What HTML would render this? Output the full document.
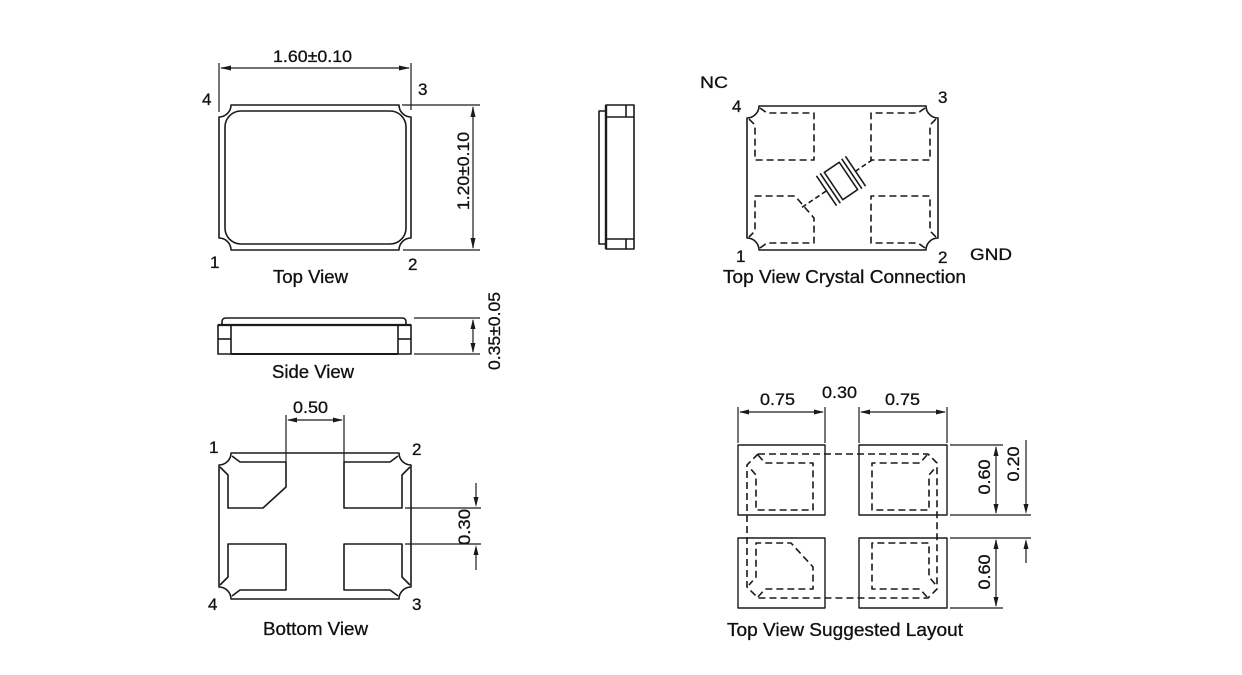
<!DOCTYPE html>
<html>
<head>
<meta charset="utf-8">
<style>
html,body{margin:0;padding:0;background:#fff;}
svg{display:block;}
text{font-family:"Liberation Sans", Arial, sans-serif;fill:#111;stroke:#111;stroke-width:0.3;}
</style>
</head>
<body>
<svg width="1242" height="675" viewBox="0 0 1242 675" xmlns="http://www.w3.org/2000/svg">
<rect width="1242" height="675" fill="#fff"/>
<g fill="none" stroke="#1a1a1a" stroke-width="1.6" stroke-linejoin="round">

<!-- ===== TOP VIEW ===== -->
<path d="M231,105 H399 A12 12 0 0 0 411,117 V238 A12 12 0 0 0 399,250 H231 A12 12 0 0 0 219,238 V117 A12 12 0 0 0 231,105 Z"/>
<rect x="225" y="111" width="181" height="133" rx="16" ry="16"/>
<!-- top dim -->
<line x1="219" y1="63" x2="219" y2="112" stroke-width="1.2"/>
<line x1="411" y1="63" x2="411" y2="110" stroke-width="1.2"/>
<line x1="221" y1="68" x2="409" y2="68" stroke-width="1.2"/>
<!-- right dim -->
<line x1="402" y1="105" x2="480" y2="105" stroke-width="1.2"/>
<line x1="403" y1="250" x2="480" y2="250" stroke-width="1.2"/>
<line x1="473" y1="107" x2="473" y2="248" stroke-width="1.2"/>

<!-- ===== SIDE PIECE ===== -->
<rect x="606" y="105" width="28" height="144"/>
<line x1="606" y1="105" x2="606" y2="249" stroke-width="2.4"/>
<line x1="606" y1="117" x2="634" y2="117"/>
<line x1="606" y1="239" x2="634" y2="239"/>
<line x1="626" y1="105" x2="626" y2="117"/>
<line x1="626" y1="239" x2="626" y2="249"/>
<polyline points="606,111 599,111 599,244 606,244"/>

<!-- ===== SIDE VIEW ===== -->
<path d="M226,318 H402 Q406,318 406,322 V325 M222,325 V322 Q222,318 226,318"/>
<line x1="218" y1="325" x2="411" y2="325" stroke-width="2.2"/>
<rect x="218" y="325" width="13" height="29"/>
<rect x="398" y="325" width="13" height="29"/>
<line x1="218" y1="339" x2="231" y2="339"/>
<line x1="398" y1="339" x2="411" y2="339"/>
<line x1="231" y1="354" x2="398" y2="354" stroke-width="2"/>
<line x1="414" y1="318" x2="480" y2="318" stroke-width="1.2"/>
<line x1="414" y1="354" x2="480" y2="354" stroke-width="1.2"/>
<line x1="473" y1="320" x2="473" y2="352" stroke-width="1.2"/>

<!-- ===== BOTTOM VIEW ===== -->
<path d="M231,453 H399 A12 12 0 0 0 411,465 V587 A12 12 0 0 0 399,599 H231 A12 12 0 0 0 219,587 V465 A12 12 0 0 0 231,453 Z"/>
<path d="M232,456 L240,462 H286 V487 L263,508 H228 V475 L220,467"/>
<path d="M398,456 L390,462 H344 V508 H402 V475 L410,467"/>
<path d="M232,596 L240,590 H286 V544 H228 V577 L220,585"/>
<path d="M398,596 L390,590 H344 V544 H402 V577 L410,585"/>
<!-- 0.50 dim -->
<line x1="286" y1="415" x2="286" y2="462" stroke-width="1.2"/>
<line x1="344" y1="415" x2="344" y2="462" stroke-width="1.2"/>
<line x1="288" y1="420" x2="342" y2="420" stroke-width="1.2"/>
<!-- 0.30 dim -->
<line x1="405" y1="508" x2="481" y2="508" stroke-width="1.2"/>
<line x1="405" y1="544" x2="481" y2="544" stroke-width="1.2"/>
<line x1="476" y1="483" x2="476" y2="500" stroke-width="1.2"/>
<line x1="476" y1="552" x2="476" y2="570" stroke-width="1.2"/>

<!-- ===== CRYSTAL CONNECTION ===== -->
<path d="M759,106 H926 A12 12 0 0 0 938,118 V238 A12 12 0 0 0 926,250 H759 A12 12 0 0 0 747,238 V118 A12 12 0 0 0 759,106 Z"/>
<g stroke-dasharray="7 4">
<path d="M760,108 L767,113 H814 V160 H755 V125 L749,119"/>
<path d="M925,108 L918,113 H871 V160 H930 V125 L936,119"/>
<path d="M760,248 L767,243 H814 V218 L795,196 H755 V231 L749,237"/>
<path d="M925,248 L918,243 H871 V196 H930 V231 L936,237"/>
</g>
<g transform="translate(841,181) rotate(-34)">
<line x1="-47" y1="0" x2="-17" y2="0" stroke-dasharray="5 3"/>
<line x1="17" y1="0" x2="39" y2="0" stroke-dasharray="5 3"/>
<line x1="-17.5" y1="-18" x2="-17.5" y2="18"/>
<line x1="-13" y1="-18" x2="-13" y2="18"/>
<line x1="13" y1="-18" x2="13" y2="18"/>
<line x1="17.5" y1="-18" x2="17.5" y2="18"/>
<rect x="-9" y="-16.5" width="18" height="33"/>
</g>

<!-- ===== SUGGESTED LAYOUT ===== -->
<rect x="738" y="445" width="87" height="70" stroke-width="1.4"/>
<rect x="859" y="445" width="88" height="70" stroke-width="1.4"/>
<rect x="738" y="538" width="87" height="70" stroke-width="1.4"/>
<rect x="859" y="538" width="88" height="70" stroke-width="1.4"/>
<g stroke-dasharray="7 4">
<path d="M758,454 H928 L937,463 V589 L928,598 H758 L747,587 V465 L758,454"/>
<path d="M758,455 L765,463 H813 V510 H756 V475 L749,467"/>
<path d="M927,455 L920,463 H872 V510 H929 V475 L936,467"/>
<path d="M758,597 L765,589 H813 V567 L791,543 H756 V577 L749,585"/>
<path d="M927,597 L920,589 H872 V543 H929 V577 L936,585"/>
</g>
<!-- top dims -->
<line x1="738" y1="407" x2="738" y2="443" stroke-width="1.2"/>
<line x1="825" y1="407" x2="825" y2="443" stroke-width="1.2"/>
<line x1="859" y1="407" x2="859" y2="443" stroke-width="1.2"/>
<line x1="947" y1="407" x2="947" y2="443" stroke-width="1.2"/>
<line x1="740" y1="412" x2="823" y2="412" stroke-width="1.2"/>
<line x1="861" y1="412" x2="945" y2="412" stroke-width="1.2"/>
<!-- right dims -->
<line x1="950" y1="445" x2="1003" y2="445" stroke-width="1.2"/>
<line x1="950" y1="515" x2="1031" y2="515" stroke-width="1.2"/>
<line x1="950" y1="538" x2="1031" y2="538" stroke-width="1.2"/>
<line x1="950" y1="608" x2="1003" y2="608" stroke-width="1.2"/>
<line x1="996" y1="447" x2="996" y2="513" stroke-width="1.2"/>
<line x1="996" y1="540" x2="996" y2="606" stroke-width="1.2"/>
<line x1="1026" y1="440" x2="1026" y2="506" stroke-width="1.2"/>
<line x1="1026" y1="547" x2="1026" y2="563" stroke-width="1.2"/>
</g>

<!-- arrowheads -->
<g fill="#1a1a1a" stroke="none">
<polygon points="220,68 231,65.5 231,70.5"/>
<polygon points="410,68 399,65.5 399,70.5"/>
<polygon points="473,106 470.5,117 475.5,117"/>
<polygon points="473,249 470.5,238 475.5,238"/>
<polygon points="473,319 470.5,329 475.5,329"/>
<polygon points="473,353 470.5,343 475.5,343"/>
<polygon points="287,420 297,417.5 297,422.5"/>
<polygon points="343,420 333,417.5 333,422.5"/>
<polygon points="476,507 473.5,497 478.5,497"/>
<polygon points="476,545 473.5,555 478.5,555"/>
<polygon points="739,412 749,409.5 749,414.5"/>
<polygon points="824,412 814,409.5 814,414.5"/>
<polygon points="860,412 870,409.5 870,414.5"/>
<polygon points="946,412 936,409.5 936,414.5"/>
<polygon points="996,446 993.5,456 998.5,456"/>
<polygon points="996,514 993.5,504 998.5,504"/>
<polygon points="996,539 993.5,549 998.5,549"/>
<polygon points="996,607 993.5,597 998.5,597"/>
<polygon points="1026,514 1023.5,504 1028.5,504"/>
<polygon points="1026,539 1023.5,549 1028.5,549"/>
</g>

<!-- ===== TEXT ===== -->
<g font-size="17">
<text x="273" y="62" textLength="79" lengthAdjust="spacingAndGlyphs">1.60±0.10</text>
<text x="202" y="105">4</text>
<text x="418" y="95">3</text>
<text x="210" y="268">1</text>
<text x="408" y="270">2</text>
<text transform="translate(469,171) rotate(-90)" text-anchor="middle" textLength="78" lengthAdjust="spacingAndGlyphs">1.20±0.10</text>
<text transform="translate(500,331) rotate(-90)" text-anchor="middle" textLength="78" lengthAdjust="spacingAndGlyphs">0.35±0.05</text>
<text x="293" y="413" textLength="35" lengthAdjust="spacingAndGlyphs">0.50</text>
<text x="209" y="453">1</text>
<text x="412" y="455">2</text>
<text x="208" y="610">4</text>
<text x="412" y="610">3</text>
<text transform="translate(470,527) rotate(-90)" text-anchor="middle" textLength="36" lengthAdjust="spacingAndGlyphs">0.30</text>
<text x="700" y="88" textLength="28" lengthAdjust="spacingAndGlyphs">NC</text>
<text x="732" y="112">4</text>
<text x="938" y="103">3</text>
<text x="736" y="262">1</text>
<text x="938" y="263">2</text>
<text x="970" y="260" textLength="42" lengthAdjust="spacingAndGlyphs">GND</text>
<text x="760" y="405" textLength="35" lengthAdjust="spacingAndGlyphs">0.75</text>
<text x="822" y="398" textLength="35" lengthAdjust="spacingAndGlyphs">0.30</text>
<text x="885" y="405" textLength="35" lengthAdjust="spacingAndGlyphs">0.75</text>
<text transform="translate(990,477) rotate(-90)" text-anchor="middle" textLength="35" lengthAdjust="spacingAndGlyphs">0.60</text>
<text transform="translate(1019,464) rotate(-90)" text-anchor="middle" textLength="35" lengthAdjust="spacingAndGlyphs">0.20</text>
<text transform="translate(990,572) rotate(-90)" text-anchor="middle" textLength="35" lengthAdjust="spacingAndGlyphs">0.60</text>
</g>
<g font-size="18">
<text x="273" y="283" textLength="75" lengthAdjust="spacingAndGlyphs">Top View</text>
<text x="272" y="378" textLength="82" lengthAdjust="spacingAndGlyphs">Side View</text>
<text x="263" y="635" textLength="105" lengthAdjust="spacingAndGlyphs">Bottom View</text>
<text x="723" y="283" textLength="243" lengthAdjust="spacingAndGlyphs">Top View Crystal Connection</text>
<text x="727" y="636" textLength="236" lengthAdjust="spacingAndGlyphs">Top View Suggested Layout</text>
</g>
</svg>
</body>
</html>
